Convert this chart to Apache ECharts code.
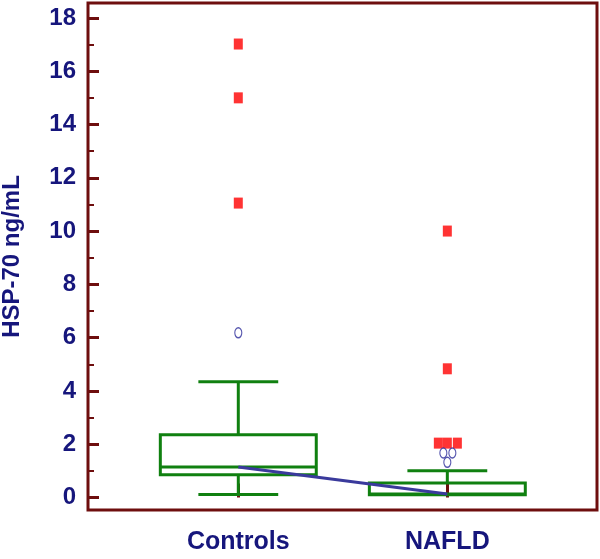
<!DOCTYPE html>
<html>
<head>
<meta charset="utf-8">
<script src="https://cdn.jsdelivr.net/npm/echarts@6/dist/echarts.min.js"></script>
<style>html,body{margin:0;padding:0;background:#fff;}#c{width:600px;height:559px;}</style>
</head>
<body>
<div id="c"></div>
<script>
// ---- data ----
var categories = ['Controls', 'NAFLD'];
var categoryPos = [1, 2];
// [min whisker, Q1, median, Q3, max whisker]
var controlsBox = [0.11, 0.85, 1.14, 2.35, 4.34];
var nafldBox = [0.10, 0.10, 0.13, 0.54, 1.00];
// far outliers (red squares)
var farX = [1, 1, 1, 2, 2, 1.957, 2, 2.048];
var farY = [17.02, 15.0, 11.05, 10.0, 4.83, 2.04, 2.04, 2.04];
// near outliers (open circles)
var nearX = [1, 1.981, 2.024, 2];
var nearY = [6.18, 1.67, 1.67, 1.32];
var yTicks = [0, 2, 4, 6, 8, 10, 12, 14, 16, 18];
var yMinorTicks = [1, 3, 5, 7, 9, 11, 13, 15, 17];

var navy = '#16167c';
var frame = '#6e0e0e';
var green = '#108010';

var boxData = [
  [categoryPos[0]].concat(controlsBox),
  [categoryPos[1]].concat(nafldBox)
];
var medianLine = [[categoryPos[0], controlsBox[2]], [categoryPos[1], nafldBox[2]]];
var farData = farX.map(function (x, i) { return [x, farY[i]]; });
var nearData = nearX.map(function (x, i) { return [x, nearY[i]]; });

var chart = echarts.init(document.getElementById('c'));
var BOX_HALF = 0.373, CAP_HALF = 0.191;

function renderBox(params, api) {
  var x = api.value(0);
  var vmin = api.value(1), q1 = api.value(2), med = api.value(3), q3 = api.value(4), vmax = api.value(5);
  var pL = api.coord([x - BOX_HALF, q3]);
  var pR = api.coord([x + BOX_HALF, q1]);
  var c = api.coord([x, med]);
  var cL = api.coord([x - CAP_HALF, vmax])[0], cR = api.coord([x + CAP_HALF, vmax])[0];
  var yMax = api.coord([x, vmax])[1], yMin = api.coord([x, vmin])[1];
  var yQ1 = pR[1], yQ3 = pL[1];
  var st = { stroke: green, lineWidth: 3, fill: null };
  var children = [
    { type: 'rect', shape: { x: pL[0], y: yQ3, width: pR[0] - pL[0], height: yQ1 - yQ3 }, style: st },
    { type: 'line', shape: { x1: pL[0], y1: c[1], x2: pR[0], y2: c[1] }, style: st },
    { type: 'line', shape: { x1: c[0], y1: yQ3, x2: c[0], y2: yMax }, style: st },
    { type: 'line', shape: { x1: cL, y1: yMax, x2: cR, y2: yMax }, style: st }
  ];
  if (vmin < q1) {
    children.push({ type: 'line', shape: { x1: c[0], y1: yQ1, x2: c[0], y2: yMin }, style: st });
    children.push({ type: 'line', shape: { x1: cL, y1: yMin, x2: cR, y2: yMin }, style: st });
  }
  return { type: 'group', children: children };
}

var yMinV = -0.47, yMaxV = 18.56;

chart.setOption({
  animation: false,
  backgroundColor: '#fff',
  grid: { left: 88, right: 3, top: 3, bottom: 49, containLabel: false, outerBoundsMode: 'none', show: true, borderColor: frame, borderWidth: 3, backgroundColor: 'transparent' },
  xAxis: {
    type: 'value', min: 0.281, max: 2.716,
    axisLine: { show: false },
    splitLine: { show: false },
    axisTick: { show: true, inside: true, length: 14, customValues: categoryPos, lineStyle: { color: frame, width: 3 } },
    axisLabel: {
      customValues: categoryPos, margin: 20,
      color: navy, fontFamily: 'Liberation Sans', fontWeight: 'bold', fontSize: 25,
      formatter: function (v) { var i = categoryPos.indexOf(v); return i >= 0 ? categories[i] : ''; }
    }
  },
  yAxis: [{
    type: 'value', min: yMinV, max: yMaxV,
    name: 'HSP-70 ng/mL', nameLocation: 'middle', nameGap: 64, nameRotate: 90,
    nameTextStyle: { color: navy, fontFamily: 'Liberation Sans', fontWeight: 'bold', fontSize: 24 },
    axisLine: { show: false },
    splitLine: { show: false },
    axisTick: { show: true, inside: true, length: 11, customValues: yTicks, lineStyle: { color: frame, width: 3 } },
    axisLabel: { customValues: yTicks, margin: 12, color: navy, fontFamily: 'Liberation Sans', fontWeight: 'bold', fontSize: 24 }
  }, {
    type: 'value', min: yMinV, max: yMaxV, position: 'left',
    axisLine: { show: false }, splitLine: { show: false },
    axisTick: { show: true, inside: true, length: 6, customValues: yMinorTicks, lineStyle: { color: frame, width: 2 } },
    axisLabel: { show: false }
  }],
  series: [
    { type: 'custom', renderItem: renderBox, data: boxData, encode: { x: 0, y: [1, 2, 3, 4, 5] }, z: 2 },
    { type: 'line', data: medianLine, symbol: 'none', lineStyle: { color: '#3a3a9c', width: 3 }, z: 3 },
    { type: 'scatter', data: farData, symbol: 'rect', symbolSize: [9, 11], itemStyle: { color: '#ff0000' }, z: 4 },
    { type: 'scatter', data: nearData, symbol: 'circle', symbolSize: [7, 10], itemStyle: { color: '#ffffff', borderColor: '#2c2c9a', borderWidth: 1.3 }, z: 4 }
  ]
});
</script>
</body>
</html>
